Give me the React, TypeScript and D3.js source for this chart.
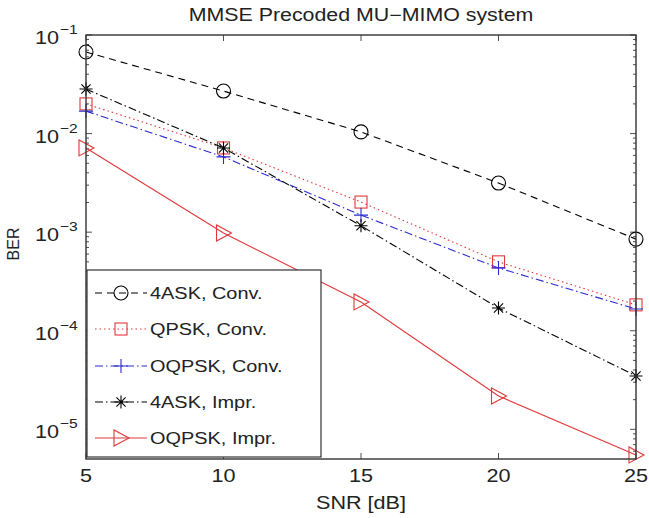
import React from "react";
import * as d3 from "d3";

const snr = [5, 10, 15, 20, 25];
const ask4Conv = [0.0672, 0.027, 0.0104, 0.00315, 0.00085];
const qpskConv = [0.02, 0.00715, 0.00202, 0.0005, 0.000183];
const oqpskConv = [0.0169, 0.0058, 0.00149, 0.000434, 0.000166];
const ask4Impr = [0.0283, 0.00715, 0.00116, 0.00017, 0.0000348];
const oqpskImpr = [0.00715, 0.00098, 0.000196, 0.0000218, 0.0000055];

const seriesNames = ["4ASK, Conv.", "QPSK, Conv.", "OQPSK, Conv.", "4ASK, Impr.", "OQPSK, Impr."];
const xTicks = [5, 10, 15, 20, 25];
const yDecades = [-1, -2, -3, -4, -5];

const W = 649, H = 518;
const L = 86, R = 636, T = 35, B = 459;
const SX = 1.2;

const series = [
  { name: seriesNames[0], data: ask4Conv, color: "#000", dash: "7,5", marker: "circle" },
  { name: seriesNames[1], data: qpskConv, color: "#e0383a", dash: "1.5,3", marker: "square" },
  { name: seriesNames[2], data: oqpskConv, color: "#2a2ad0", dash: "8,3,1.5,3", marker: "plus" },
  { name: seriesNames[3], data: ask4Impr, color: "#000", dash: "8,3,1.5,3", marker: "star" },
  { name: seriesNames[4], data: oqpskImpr, color: "#e0383a", dash: "", marker: "tri" },
];

function T2({ x, y, size, anchor, children }: { x: number; y: number; size: number; anchor?: string; children: React.ReactNode }) {
  return (
    <text transform={`translate(${x},${y}) scale(${SX},1)`} fontSize={size} textAnchor={anchor || "start"} fill="#222">
      {children}
    </text>
  );
}

function Marker({ type, x, y, color }: { type: string; x: number; y: number; color: string }) {
  const sw = 1.1;
  if (type === "circle") return <circle cx={x} cy={y} r={7} fill="none" stroke={color} strokeWidth={sw} />;
  if (type === "square") return <rect x={x - 6} y={y - 6} width={12} height={12} fill="none" stroke={color} strokeWidth={sw} />;
  if (type === "plus")
    return <path d={`M${x - 7},${y}H${x + 7}M${x},${y - 7}V${y + 7}`} stroke={color} strokeWidth={sw} fill="none" />;
  if (type === "star") {
    const r = 6.5, d = r * 0.707;
    return (
      <path
        d={`M${x - r},${y}H${x + r}M${x},${y - r}V${y + r}M${x - d},${y - d}L${x + d},${y + d}M${x - d},${y + d}L${x + d},${y - d}`}
        stroke={color}
        strokeWidth={sw}
        fill="none"
      />
    );
  }
  return <path d={`M${x + 8},${y}L${x - 7},${y - 8}L${x - 7},${y + 8}Z`} fill="none" stroke={color} strokeWidth={sw} />;
}

export default function App() {
  const x = d3.scaleLinear().domain([5, 25]).range([L, R]);
  const y = d3.scaleLog().domain([5e-6, 1e-1]).range([B, T]);
  const font = "'Liberation Sans', Arial, Helvetica, sans-serif";

  const minor: number[] = [];
  for (let e = -6; e <= -2; e++)
    for (let k = 2; k <= 9; k++) {
      const v = k * Math.pow(10, e);
      if (v >= 5e-6 && v <= 1e-1) minor.push(v);
    }

  const line = d3
    .line<number>()
    .x((_, i) => x(snr[i]))
    .y((d) => y(d));

  const legX = 87, legY = 270, legW = 234, legH = 187;
  const rowY = [293, 329, 366, 402, 438];

  return (
    <svg width={W} height={H} style={{ position: "absolute", left: 0, top: 0, background: "#fff" }} fontFamily={font}>
      <rect x={0} y={0} width={W} height={H} fill="#fff" />
      <T2 x={361} y={21} size={17.8} anchor="middle">
        MMSE Precoded MU−MIMO system
      </T2>
      {minor.map((v, i) => (
        <g key={"m" + i} stroke="#222" strokeWidth={0.8}>
          <line x1={L} x2={L + 3} y1={y(v)} y2={y(v)} />
          <line x1={R} x2={R - 3} y1={y(v)} y2={y(v)} />
        </g>
      ))}
      {yDecades.map((e) => {
        const yy = y(Math.pow(10, e));
        return (
          <g key={"y" + e}>
            <line x1={L} x2={L + 6} y1={yy} y2={yy} stroke="#222" strokeWidth={0.8} />
            <line x1={R} x2={R - 6} y1={yy} y2={yy} stroke="#222" strokeWidth={0.8} />
            <T2 x={59} y={yy + 9} size={18} anchor="end">
              10
            </T2>
            <T2 x={60} y={yy - 1} size={13}>
              {"−" + -e}
            </T2>
          </g>
        );
      })}
      {xTicks.map((t) => (
        <g key={"x" + t}>
          <line x1={x(t)} x2={x(t)} y1={B} y2={B - 6} stroke="#222" strokeWidth={0.8} />
          <line x1={x(t)} x2={x(t)} y1={T} y2={T + 6} stroke="#222" strokeWidth={0.8} />
          <T2 x={x(t)} y={482} size={18} anchor="middle">
            {t}
          </T2>
        </g>
      ))}
      <T2 x={361} y={509} size={18} anchor="middle">
        SNR [dB]
      </T2>
      <text transform={`translate(18.5,244) rotate(-90)`} textAnchor="middle" fontSize={16} fill="#222">
        BER
      </text>
      {series.map((s, si) => (
        <g key={"s" + si}>
          <path d={line(s.data) || ""} fill="none" stroke={s.color} strokeWidth={1.1} strokeDasharray={s.dash || undefined} />
          {s.data.map((v, i) => (
            <Marker key={i} type={s.marker} x={x(snr[i])} y={y(v)} color={s.color} />
          ))}
        </g>
      ))}
      <rect x={L} y={T} width={R - L} height={B - T} fill="none" stroke="#333" strokeWidth={1.4} />
      <rect x={legX} y={legY} width={legW} height={legH} fill="#fff" stroke="#333" strokeWidth={1.2} />
      {series.map((s, i) => (
        <g key={"l" + i}>
          <line x1={95} x2={147} y1={rowY[i]} y2={rowY[i]} stroke={s.color} strokeWidth={1.1} strokeDasharray={s.dash || undefined} />
          <Marker type={s.marker} x={121} y={rowY[i]} color={s.color} />
          <T2 x={150} y={rowY[i] + 6} size={16.6}>
            {s.name}
          </T2>
        </g>
      ))}
    </svg>
  );
}
